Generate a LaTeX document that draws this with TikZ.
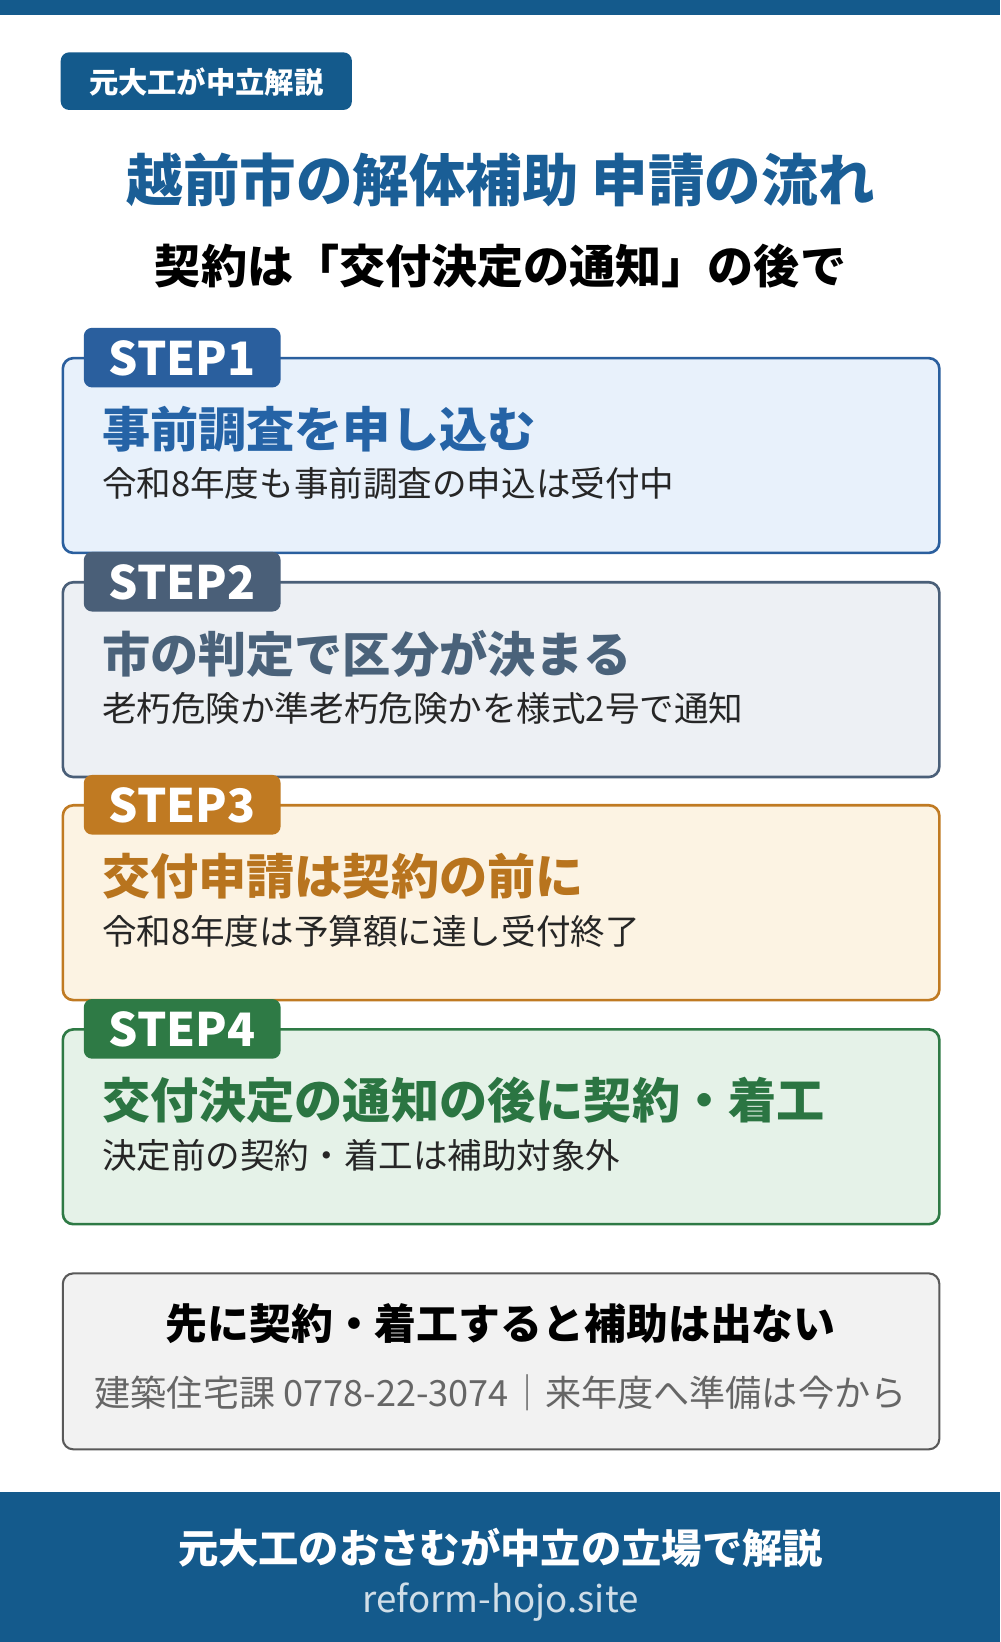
\documentclass[tikz,border=0pt]{standalone}
\usepackage{fontspec}
\setmainfont{Noto Sans CJK JP}
\definecolor{navy}{HTML}{145A8C}
\definecolor{ttlc}{HTML}{1A5E96}
\definecolor{bA}{HTML}{2A5F9E}\definecolor{fA}{HTML}{E8F1FB}\definecolor{tA}{HTML}{2563A6}
\definecolor{bB}{HTML}{4A5F78}\definecolor{fB}{HTML}{EDF0F4}\definecolor{tB}{HTML}{4A627A}
\definecolor{bC}{HTML}{C07A22}\definecolor{fC}{HTML}{FCF3E3}\definecolor{tC}{HTML}{B8741E}
\definecolor{bD}{HTML}{2E7A45}\definecolor{fD}{HTML}{E5F2E8}\definecolor{tD}{HTML}{2B7542}
\begin{document}
\begin{tikzpicture}[x=1pt,y=-1pt,
  stepbox/.style={draw, line width=2.5pt, rounded corners=10pt},
  tab/.style={rounded corners=8pt},
  tabtxt/.style={text=white, font=\fontsize{44}{46}\selectfont\bfseries},
  ttl/.style={anchor=west, font=\fontsize{46}{48}\selectfont\bfseries},
  sub/.style={anchor=west, text=black!85, font=\fontsize{33}{35}\selectfont}]
\useasboundingbox (0,0) rectangle (955,1568);
\fill[white] (0,0) rectangle (955,1568);
\fill[navy] (0,0) rectangle (955,14);
\fill[navy,rounded corners=8pt] (58,50) rectangle (336,105);
\node[text=white,font=\fontsize{28}{30}\selectfont\bfseries] (badge) at (197,78) {元大工が中立解説};
\node[text=ttlc,font=\fontsize{54}{58}\selectfont\bfseries] (title) at (478,172) {越前市の解体補助 申請の流れ};
\node[font=\fontsize{44}{48}\selectfont\bfseries] (subt) at (478,254) {契約は「交付決定の通知」の後で};
\foreach \y/\c/\n/\t/\s in {342/A/1/事前調査を申し込む/令和8年度も事前調査の申込は受付中,
  556/B/2/市の判定で区分が決まる/老朽危険か準老朽危険かを様式2号で通知,
  769/C/3/交付申請は契約の前に/令和8年度は予算額に達し受付終了,
  983/D/4/交付決定の通知の後に契約・着工/決定前の契約・着工は補助対象外}{
  \draw[stepbox, draw=b\c, fill=f\c] (60,\y) rectangle (897,\y+186);
  \fill[tab, b\c] (80,\y-29) rectangle (268,\y+28);
  \node[tabtxt] (tab\n) at (174,\y) {STEP\n};
  \node[ttl, text=t\c] (t\n) at (94,\y+68) {\t};
  \node[sub] (s\n) at (94,\y+120) {\s};
}
\draw[line width=2pt, draw=black!65, fill=black!5, rounded corners=10pt] (60,1216) rectangle (897,1384);
\node[font=\fontsize{40}{44}\selectfont\bfseries] (warn) at (478,1264) {先に契約・着工すると補助は出ない};
\node[text=black!60, font=\fontsize{34.5}{37}\selectfont] (contact) at (478,1330) {建築住宅課 0778-22-3074｜来年度へ準備は今から};
\fill[navy] (0,1425) rectangle (955,1568);
\node[text=white, font=\fontsize{38.5}{41}\selectfont\bfseries] (foot) at (478,1478) {元大工のおさむが中立の立場で解説};
\node[text=navy!20, font=\fontsize{35}{37}\selectfont] (site) at (478,1530) {reform-hojo.site};
\end{tikzpicture}
\end{document}
